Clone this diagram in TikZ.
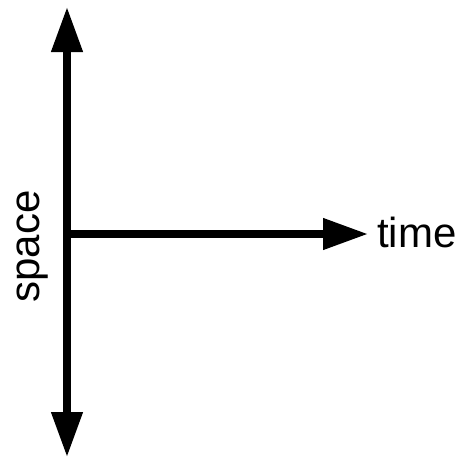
\documentclass[tikz,border=0pt]{standalone}
\usepackage{fontspec}
\setmainfont{Liberation Sans}
\usetikzlibrary{arrows.meta}
\begin{document}
\begin{tikzpicture}[x=1pt,y=-1pt,
  axis/.style={line width=7.5pt, -{Triangle[length=45pt,width=30pt]}},
  lbl/.style={font=\fontsize{42}{50}\selectfont, inner sep=0pt}]
\useasboundingbox (0,0) rectangle (466,459);
\coordinate (top) at (67,7);
\coordinate (bot) at (67,457);
\coordinate (origin) at (67,234);
\coordinate (right) at (368,234);
\draw[axis, {Triangle[length=45pt,width=30pt]}-{Triangle[length=45pt,width=30pt]}] (bot) -- (top);
\draw[axis] (origin) -- (right);
\node[lbl, anchor=base west] (time) at (377,247) {time};
\node[lbl, rotate=90, anchor=center] (space) at (33,246.5) {space};
\end{tikzpicture}
\end{document}
